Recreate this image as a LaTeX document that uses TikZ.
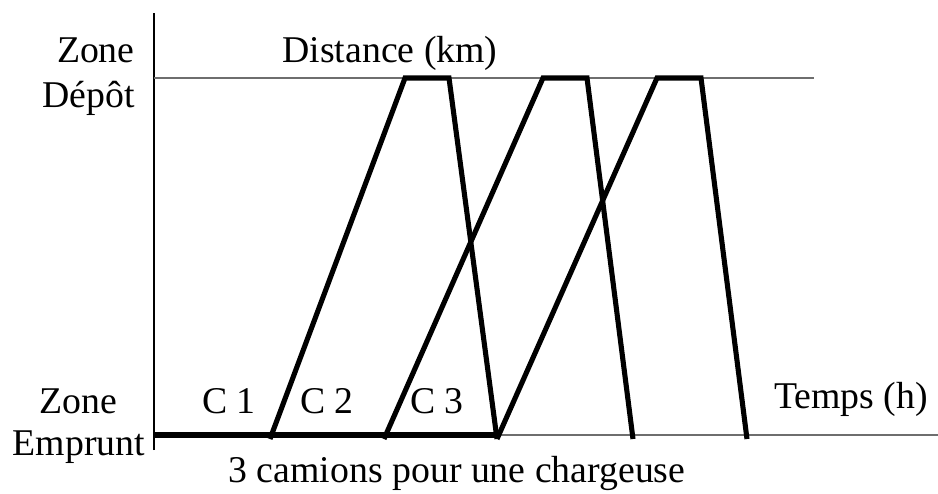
\documentclass[tikz,border=0pt]{standalone}
\usepackage{fontspec}
\setmainfont{Liberation Serif}
\usepackage{tikz}
\usetikzlibrary{positioning}
\definecolor{axisgray}{RGB}{110,110,110}
\tikzset{
  axis/.style={black, line width=1.1pt},
  level/.style={axisgray, line width=1.1pt},
  trip/.style={black, line width=2.9pt, line join=miter},
  lab/.style={font=\fontsize{21.5}{24}\selectfont, inner sep=0pt, anchor=base},
}
\begin{document}
\begin{tikzpicture}[x=1cm,y=1cm]
  \path[use as bounding box] (0,0) rectangle (18.76,9.86);

  % axes and levels
  \draw[axis] (3.08,0.86) -- (3.08,9.60);
  \draw[level] (3.08,8.30) -- (16.28,8.30);
  \draw[level] (3.08,1.16) -- (18.76,1.16);
  \draw[trip] (3.08,1.16) -- (9.94,1.16);

  % one trip per truck
  \foreach \s/\u/\v/\e in {
      5.40/8.10/8.98/9.94,
      7.68/10.86/11.74/12.66,
      9.94/13.14/14.02/14.94}
    {\draw[trip] (\s,1.08) -- (\u,8.30) -- (\v,8.30) -- (\e,1.08);}

  \node[lab, anchor=base east] (zd1) at (2.70,8.62) {Zone};
  \node[lab, anchor=base east] (zd2) at (2.70,7.72) {Dépôt};
  \node[lab] (dist) at (7.80,8.62) {Distance (km)};
  \node[lab] (ze1) at (1.56,1.60) {Zone};
  \node[lab] (ze2) at (1.58,0.76) {Emprunt};
  \node[lab] (c1) at (4.58,1.60) {C 1};
  \node[lab] (c2) at (6.54,1.60) {C 2};
  \node[lab] (c3) at (8.74,1.60) {C 3};
  \node[lab] (temps) at (17.02,1.70) {Temps (h)};
  \node[lab] (caption) at (9.14,0.22) {3 camions pour une chargeuse};
\end{tikzpicture}
\end{document}
